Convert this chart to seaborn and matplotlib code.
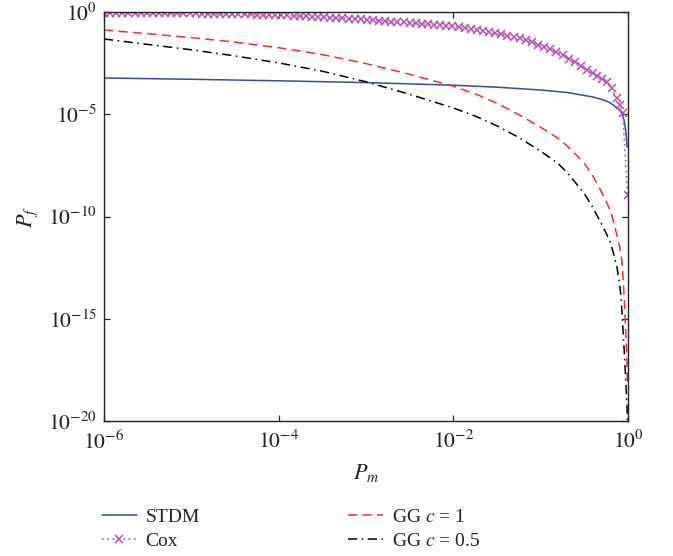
import numpy as np
import pandas as pd
import matplotlib
matplotlib.use("Agg")
import matplotlib.pyplot as plt
import seaborn as sns

# ---------------- data (log10 values) ----------------
# common log10(P_m) grid for the two GG curves
curve_log_pm = [-6.0, -5.5, -5.0, -4.5, -4.0, -3.5, -3.0, -2.5, -2.0, -1.75, -1.5, -1.25,
                -1.0, -0.80, -0.70, -0.60, -0.50, -0.40, -0.30, -0.25, -0.20, -0.17,
                -0.125, -0.092, -0.080, -0.069, -0.057, -0.046, -0.034, -0.023, -0.016,
                -0.0115, -0.0057, -0.0023]

# STDM
stdm_log_pm = [-6.0, -5.0, -4.0, -3.0, -2.0, -1.5, -1.0, -0.70, -0.50, -0.40, -0.30,
               -0.25, -0.20, -0.17, -0.125, -0.092, -0.069, -0.057, -0.046, -0.034,
               -0.023, -0.016, -0.0115]
stdm_log_pf = [-3.227, -3.29, -3.364, -3.452, -3.579, -3.677, -3.814, -3.936, -4.083,
               -4.156, -4.279, -4.352, -4.450, -4.548, -4.694, -4.817, -4.963, -5.086,
               -5.281, -5.575, -5.917, -6.259, -6.601]

# GG, c = 1 (ends at log10 P_m = -0.0057)
gg1_log_pf = [-0.880, -1.061, -1.252, -1.472, -1.746, -2.083, -2.523, -3.046, -3.633,
              -3.995, -4.465, -5.022, -5.638, -6.176, -6.538, -6.958, -7.399, -8.034,
              -8.826, -9.257, -9.736, -10.176, -10.949, -11.54, -11.90, -12.22, -12.91,
              -13.79, -14.82, -15.94, -16.60, -17.11, -18.24]

# GG, c = 0.5
gg05_log_pf = [-1.320, -1.584, -1.848, -2.147, -2.489, -2.895, -3.413, -4.024, -4.694,
               -5.086, -5.570, -6.137, -6.807, -7.413, -7.839, -8.352, -8.880, -9.579,
               -10.391, -10.816, -11.296, -11.736, -12.509, -13.447, -13.936, -14.670,
               -15.550, -16.381, -17.311, -18.289, -18.90, -19.267, -20.0, -20.44]

# Cox (marked points)
cox_log_pm = [-6.00, -5.93, -5.86, -5.79, -5.72, -5.65, -5.58, -5.51, -5.44, -5.37,
              -5.30, -5.23, -5.16, -5.09, -5.02, -4.95, -4.88, -4.81, -4.74, -4.67,
              -4.60, -4.53, -4.46, -4.39, -4.32, -4.25, -4.18, -4.11, -4.04, -3.97,
              -3.90, -3.83, -3.76, -3.69, -3.62, -3.55, -3.48, -3.41, -3.34, -3.27,
              -3.20, -3.13, -3.06, -2.99, -2.92, -2.85, -2.78, -2.71, -2.64, -2.57,
              -2.50, -2.43, -2.36, -2.29, -2.22, -2.15, -2.08, -2.01, -1.94, -1.87,
              -1.80, -1.73, -1.66, -1.59, -1.52, -1.45, -1.38, -1.31, -1.24, -1.17,
              -1.10, -1.03, -0.96, -0.89, -0.82, -0.75, -0.68, -0.61, -0.54, -0.47,
              -0.40, -0.35, -0.30, -0.244, -0.187, -0.13, -0.094, -0.061, -0.0044]
cox_log_pf = [-0.050, -0.051, -0.053, -0.054, -0.056, -0.057, -0.058, -0.060, -0.061, -0.063,
              -0.064, -0.065, -0.067, -0.068, -0.070, -0.073, -0.077, -0.081, -0.086, -0.090,
              -0.094, -0.098, -0.104, -0.111, -0.118, -0.125, -0.132, -0.139, -0.146, -0.156,
              -0.170, -0.184, -0.198, -0.212, -0.226, -0.240, -0.255, -0.273, -0.292, -0.310,
              -0.328, -0.346, -0.364, -0.383, -0.404, -0.425, -0.446, -0.467, -0.488, -0.509,
              -0.530, -0.554, -0.578, -0.601, -0.625, -0.649, -0.673, -0.697, -0.740, -0.788,
              -0.835, -0.882, -0.929, -0.976, -1.029, -1.095, -1.162, -1.228, -1.294, -1.360,
              -1.473, -1.592, -1.712, -1.832, -1.951, -2.097, -2.278, -2.458, -2.639, -2.820,
              -3.000, -3.13, -3.26, -3.41, -3.73, -4.22, -4.55, -4.95, -8.95]

series_labels = ["STDM", "Cox", "GG $c$ = 1", "GG $c$ = 0.5"]
x_ticks = [1e-6, 1e-4, 1e-2, 1e0]
x_tick_labels = [r"$10^{-6}$", r"$10^{-4}$", r"$10^{-2}$", r"$10^{0}$"]
y_ticks = [1e-20, 1e-15, 1e-10, 1e-5, 1e0]
y_tick_labels = [r"$10^{-20}$", r"$10^{-15}$", r"$10^{-10}$", r"$10^{-5}$", r"$10^{0}$"]

# ---------------- style ----------------
sns.set_theme(style="ticks")
plt.rcParams["font.family"] = ["Liberation Serif", "DejaVu Serif"]
plt.rcParams["mathtext.fontset"] = "stix"
plt.rcParams["axes.linewidth"] = 1.0

fig = plt.figure(figsize=(6.73, 5.56), dpi=100)
ax = fig.add_axes([104 / 673, 1 - 421 / 556, (628 - 104) / 673, (421 - 12) / 556])
ax.set_xscale("log")
ax.set_yscale("log")


def frame(log_pm, log_pf):
    return pd.DataFrame({"pm": 10.0 ** np.asarray(log_pm, float),
                         "pf": 10.0 ** np.asarray(log_pf, float)})


blue = "#2E4FA6"
red = "#FF2A2A"
magenta = "#BB4FB2"
ink = "#222222"

sns.lineplot(data=frame(stdm_log_pm, stdm_log_pf), x="pm", y="pf", ax=ax, sort=False,
             estimator=None, color=blue, linewidth=1.1, label=series_labels[0])
sns.lineplot(data=frame(cox_log_pm, cox_log_pf), x="pm", y="pf", ax=ax,
             sort=False, estimator=None, color=magenta, linewidth=1.2, linestyle=(0, (1, 2.2)),
             marker="x", markersize=5.3, markeredgewidth=1.1, markeredgecolor=magenta,
             label=series_labels[1])
sns.lineplot(data=frame(curve_log_pm[:len(gg1_log_pf)], gg1_log_pf), x="pm", y="pf", ax=ax,
             sort=False, estimator=None, color=red, linewidth=1.1, linestyle=(0, (6, 3.5)),
             label=series_labels[2])
sns.lineplot(data=frame(curve_log_pm, gg05_log_pf), x="pm", y="pf", ax=ax, sort=False,
             estimator=None, color="black", linewidth=1.1, linestyle=(0, (6, 3, 1, 3)),
             label=series_labels[3])

if ax.get_legend() is not None:
    ax.get_legend().remove()

ax.set_xlim(1e-6, 1e0)
ax.set_ylim(1e-20, 1e0)
ax.set_xticks(x_ticks)
ax.set_xticklabels(x_tick_labels)
ax.set_yticks(y_ticks)
ax.set_yticklabels(y_tick_labels)
ax.minorticks_off()
ax.tick_params(axis="both", which="major", direction="in", length=4, width=0.9,
               top=True, right=True, labelsize=15.5, colors=ink, labelcolor=ink)
ax.tick_params(axis="x", pad=7)
ax.tick_params(axis="y", pad=5)
for s in ax.spines.values():
    s.set_visible(True)
    s.set_color(ink)
    s.set_linewidth(1.0)

ax.set_xlabel("$P_m$", fontsize=16, color=ink, labelpad=6)
ax.set_ylabel("$P_f$", fontsize=16, color=ink, labelpad=6)

handles, labels = ax.get_legend_handles_labels()
fig.legend(handles, labels, ncol=2, loc="upper left",
           bbox_to_anchor=(102 / 673, 1 - 508 / 556), frameon=False,
           fontsize=14, handlelength=1.8, handletextpad=0.45, columnspacing=7.6,
           labelspacing=0.35, borderpad=0.0, borderaxespad=0.0, labelcolor=ink)

fig.savefig("out.png", dpi=100)
